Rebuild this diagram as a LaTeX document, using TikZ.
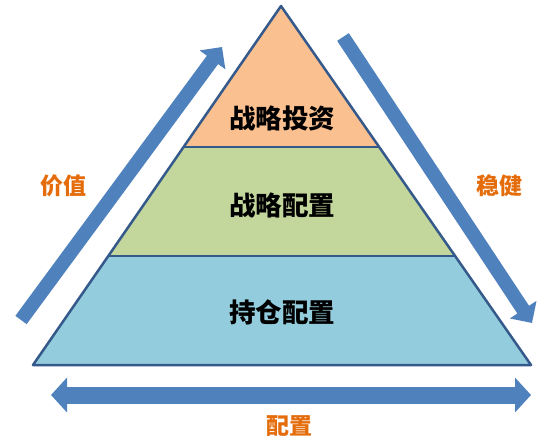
\documentclass[tikz,border=0pt]{standalone}
\usepackage{fontspec}
\newfontfamily\cjk{Noto Sans CJK SC}
\usetikzlibrary{arrows.meta}
\definecolor{arrowblue}{HTML}{4F81BD}
\definecolor{edgeblue}{HTML}{34598A}
\definecolor{layerorange}{HTML}{FAC090}
\definecolor{layergreen}{HTML}{C3D69B}
\definecolor{layerblue}{HTML}{93CDDD}
\definecolor{labelorange}{HTML}{E46C0A}
\tikzset{
  bigarrow/.style={draw=arrowblue, line width=14pt, -{Triangle[length=16pt,width=31pt]}},
  flatarrow/.style={draw=arrowblue, line width=17pt, {Triangle[length=16pt,width=34pt]}-{Triangle[length=16pt,width=34pt]}},
  layertext/.style={font=\cjk\bfseries\fontsize{26.5}{30}\selectfont, text=black, inner sep=0pt},
  sidelabel/.style={font=\cjk\bfseries\fontsize{23}{27}\selectfont, text=labelorange, inner sep=0pt},
  edge/.style={draw=edgeblue, line width=2.5pt, line join=round}
}
\begin{document}
\begin{tikzpicture}[x=1pt,y=-1pt]
\useasboundingbox (0,0) rectangle (554,441);
% pyramid corners
\coordinate (A) at (281,6);
\coordinate (L1) at (183.6,147);
\coordinate (R1) at (379.2,147);
\coordinate (L2) at (108.3,256);
\coordinate (R2) at (455.1,256);
\coordinate (BL) at (33,365);
\coordinate (BR) at (531,365);
% layers
\fill[layerorange] (A) -- (R1) -- (L1) -- cycle;
\fill[layergreen] (L1) -- (R1) -- (R2) -- (L2) -- cycle;
\fill[layerblue] (L2) -- (R2) -- (BR) -- (BL) -- cycle;
\draw[edge] (L1) -- (R1);
\draw[edge] (L2) -- (R2);
\draw[edge] (A) -- (BR) -- (BL) -- cycle;
% layer texts
\node[layertext] (t1) at (282,118) {战略投资};
\node[layertext] (t2) at (282,205) {战略配置};
\node[layertext] (t3) at (282,312) {持仓配置};
% arrows
\coordinate (la0) at (21,320);
\coordinate (la1) at (222,47);
\draw[bigarrow, line cap=butt] (la0) -- (la1);
\coordinate (ra0) at (343,37);
\coordinate (ra1) at (532,323);
\draw[bigarrow, line cap=butt] (ra0) -- (ra1);
\coordinate (ba0) at (51,395);
\coordinate (ba1) at (531,395);
\draw[flatarrow] (ba0) -- (ba1);
% side labels
\node[sidelabel] (v) at (63,186) {价值};
\node[sidelabel] (s) at (499,186) {稳健};
\node[sidelabel] (p) at (289,426) {配置};
\end{tikzpicture}
\end{document}
